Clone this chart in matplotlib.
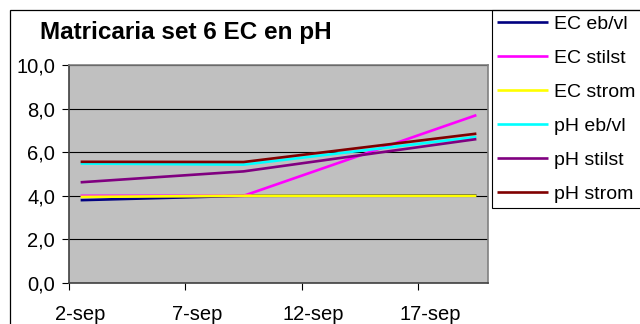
import matplotlib
matplotlib.use("Agg")
import matplotlib.pyplot as plt
from matplotlib.patches import Rectangle

plt.rcParams["font.family"] = ["Liberation Sans", "DejaVu Sans"]

# measurement days (september)
days = [2, 9, 19]
series_names = ["EC eb/vl", "EC stilst", "EC strom", "pH eb/vl", "pH stilst", "pH strom"]
ec_ebvl = [3.8, 4.0, 4.02]
ec_stilst = [4.0, 4.0, 7.7]
ec_strom = [3.95, 4.0, 4.0]
ph_ebvl = [5.48, 5.43, 6.7]
ph_stilst = [4.62, 5.12, 6.6]
ph_strom = [5.56, 5.55, 6.85]
colors = ["#000080", "#FF00FF", "#FFFF00", "#00FFFF", "#800080", "#800000"]

tick_days = [2, 7, 12, 17]
tick_labels = ["2-sep", "7-sep", "12-sep", "17-sep"]
y_ticks = [0, 2, 4, 6, 8, 10]

W, H = 640, 324
fig = plt.figure(figsize=(W / 100, H / 100), dpi=100)
ax = fig.add_axes([69 / W, 1 - 283 / H, (488 - 69) / W, (283 - 65) / H])
ax.set_facecolor("#C0C0C0")

# Excel date axis: points sit in the middle of each day slot
for vals, name, c in zip([ec_ebvl, ec_stilst, ec_strom, ph_ebvl, ph_stilst, ph_strom],
                         series_names, colors):
    ax.plot([d + 0.5 for d in days], vals, color=c, lw=1.9, label=name,
            solid_capstyle="butt", zorder=3)

ax.set_xlim(2, 20)
ax.set_ylim(0, 10)
ax.set_yticks(y_ticks)
ax.set_yticklabels([f"{v:.1f}".replace(".", ",") for v in y_ticks], fontsize=14.5)
ax.set_xticks(tick_days)
ax.set_xticklabels([])
ax.set_xticks([d + 0.5 for d in tick_days], minor=True)
ax.set_xticklabels(tick_labels, minor=True, fontsize=14.5)
ax.tick_params(axis="x", which="major", direction="out", length=5, width=0.8)
ax.tick_params(axis="x", which="minor", length=0, pad=16)
ax.tick_params(axis="y", direction="out", length=5, width=0.8, pad=5)
ax.grid(axis="y", color="black", lw=0.8, zorder=1)
ax.set_axisbelow(True)
for side in ("left", "bottom"):
    ax.spines[side].set_color("#404040")
for side in ("right", "top"):
    ax.spines[side].set_color("#808080")
for s in ax.spines.values():
    s.set_linewidth(1.2)

fig.text(186 / W, 1 - 39 / H, "Matricaria set 6 EC en pH", fontsize=17.5,
         fontweight="bold", ha="center", va="baseline")

leg = ax.legend(loc="upper left", bbox_to_anchor=(492 / W, 1 - 10 / H),
                bbox_transform=fig.transFigure, borderaxespad=0, fontsize=14,
                frameon=True, fancybox=False, edgecolor="black", framealpha=1,
                borderpad=0.28, handlelength=2.6, handletextpad=0.3,
                labelspacing=0.84)
leg.get_frame().set_linewidth(0.8)
for ln in leg.get_lines():
    ln.set_linewidth(1.9)

# outer chart-area border (runs off the right and bottom edges)
fig.patches.append(Rectangle((10 / W, -0.2), 2, 1.2 - 10 / H, transform=fig.transFigure,
                             fill=False, edgecolor="black", lw=0.9))

fig.savefig("out.png", dpi=100)
